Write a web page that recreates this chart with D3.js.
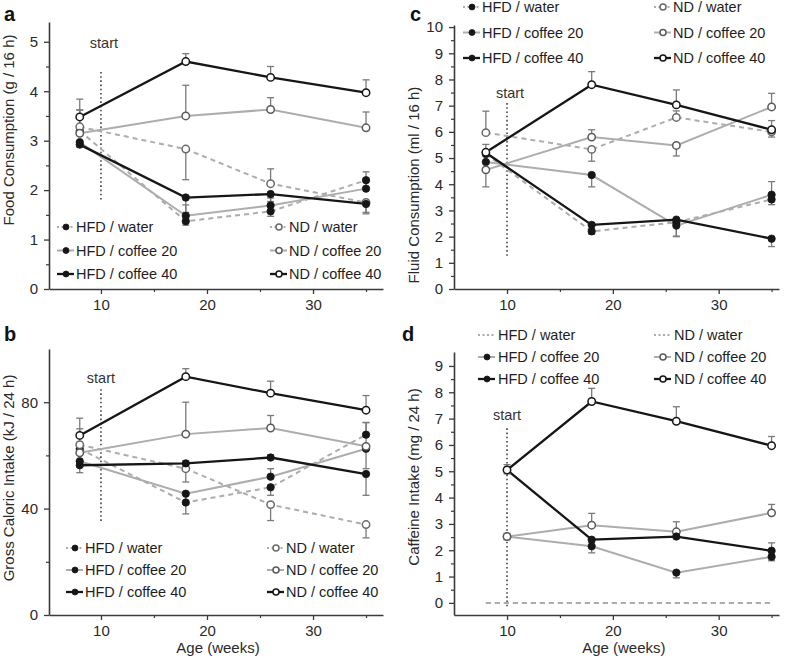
<!DOCTYPE html>
<html><head><meta charset="utf-8">
<script src="https://cdn.jsdelivr.net/npm/d3@7"></script>
<style>
html,body{margin:0;padding:0;background:#fff;}
svg{display:block;font-family:"Liberation Sans",Arial,Helvetica,sans-serif;}
</style></head>
<body>
<svg id="chart" width="792" height="658"></svg>
<script>
// ---------------- DATA ----------------
const weeks = [8, 18, 26, 35];
const caffWeeks = [10, 18, 26, 35];
const seriesNames = ["HFD / water", "HFD / coffee 20", "HFD / coffee 40", "ND / water", "ND / coffee 20", "ND / coffee 40"];

// a: Food consumption (g / 16 h); errors signed (+ up, - down)
const foodHFDwater = [3.20, 1.37, 1.57, 2.20];
const foodHFDc20   = [2.97, 1.48, 1.69, 2.03];
const foodHFDc40   = [2.92, 1.85, 1.92, 1.72];
const foodNDwater  = [3.28, 2.83, 2.13, 1.75];
const foodNDc20    = [3.15, 3.50, 3.63, 3.26];
const foodNDc40    = [3.48, 4.60, 4.28, 3.97];
const foodErrHFDwater = [-0.08, -0.08, -0.10, 0.17];
const foodErrHFDc20   = [-0.06, 0.22, 0.15, 0.17];
const foodErrHFDc40   = [-0.05, -0.30, -0.15, -0.20];
const foodErrNDwater  = [0.34, -0.62, 0.30, -0.20];
const foodErrNDc20    = [0.47, 0.62, 0.24, 0.32];
const foodErrNDc40    = [0.36, 0.16, 0.22, 0.26];

// b: Gross caloric intake (kJ / 24 h)
const calHFDwater = [62.5, 42.3, 48.0, 67.8];
const calHFDc20   = [57.8, 45.6, 52.0, 62.5];
const calHFDc40   = [56.3, 57.0, 59.2, 53.0];
const calNDwater  = [64.0, 55.0, 41.5, 34.0];
const calNDc20    = [61.0, 68.0, 70.3, 63.4];
const calNDc40    = [67.5, 89.6, 83.4, 77.0];
const calErrHFDwater = [1.0, -4.3, -3.0, 4.5];
const calErrHFDc20   = [-2.0, -4.0, 3.0, -7.5];
const calErrHFDc40   = [-2.8, 1.0, 1.0, -8.0];
const calErrNDwater  = [6.0, -5.0, -6.0, -5.0];
const calErrNDc20    = [2.0, 12.0, 4.7, 9.0];
const calErrNDc40    = [6.5, 3.0, 4.5, 5.5];

// c: Fluid consumption (ml / 16 h)
const fluHFDwater = [5.15, 2.20, 2.55, 3.42];
const fluHFDc20   = [4.85, 4.35, 2.42, 3.60];
const fluHFDc40   = [5.20, 2.45, 2.65, 1.92];
const fluNDwater  = [5.97, 5.33, 6.55, 6.00];
const fluNDc20    = [4.55, 5.80, 5.48, 6.95];
const fluNDc40    = [5.22, 7.80, 7.03, 6.08];
const fluErrHFDwater = [0.10, -0.10, -0.55, -0.20];
const fluErrHFDc20   = [0.30, -0.45, -0.40, 0.50];
const fluErrHFDc40   = [0.10, -0.15, -0.20, -0.30];
const fluErrNDwater  = [0.82, -0.45, 0.25, -0.20];
const fluErrNDc20    = [-0.65, 0.28, -0.40, 0.52];
const fluErrNDc40    = [0.30, 0.50, 0.57, 0.35];

// d: Caffeine intake (mg / 24 h)
const cafHFDwater = [0, 0, 0, 0];
const cafNDwater  = [0, 0, 0, 0];
const cafHFDc20   = [2.52, 2.15, 1.15, 1.75];
const cafHFDc40   = [5.05, 2.40, 2.52, 1.98];
const cafNDc20    = [2.52, 2.95, 2.70, 3.42];
const cafNDc40    = [5.05, 7.65, 6.90, 5.97];
const cafErrHFDc20 = [-0.12, -0.25, -0.20, -0.15];
const cafErrHFDc40 = [-0.15, -0.10, -0.05, 0.30];
const cafErrNDc20  = [0.12, 0.45, 0.38, 0.32];
const cafErrNDc40  = [0.20, 0.50, 0.55, 0.35];

const xTicks = [10, 20, 30];
const xMinor = [15, 25, 35];

// ---------------- STYLE ----------------
const BLACK = "#161616", GRAY = "#adadad", ERR = "#7a7a7a";
const styles = {
  "HFD / water":     {line: GRAY,  dash: "5,4", open: false},
  "HFD / coffee 20": {line: GRAY,  dash: null,  open: false},
  "HFD / coffee 40": {line: BLACK, dash: null,  open: false},
  "ND / water":      {line: GRAY,  dash: "5,4", open: true, stroke: "#6a6a6a"},
  "ND / coffee 20":  {line: GRAY,  dash: null,  open: true, stroke: "#5a5a5a"},
  "ND / coffee 40":  {line: BLACK, dash: null,  open: true, stroke: BLACK}
};

const svg = d3.select("#chart");

function mk(name, xs, ys, errs, markers = true) {
  return {name, xs, ys, errs, markers};
}

const panels = [
  { letter: "a", lx: 4, ly: 21, ylabel: "Food Consumption (g / 16 h)", ylx: 14, yly: 130,
    xDomain: [5.1, 36.6], xRange: [49, 383], yDomain: [0, 5.4], yRange: [289, 22],
    yTicks: [0, 1, 2, 3, 4, 5], yMinor: [0.5, 1.5, 2.5, 3.5, 4.5],
    start: {y1: 4.39, y2: 1.76, ty: 4.88, dx: 3},
    legend: {x1: 57, x2: 270, y: 232, dy: 23.5, textDx: 19, dWater: true},
    series: [
      mk("HFD / water", weeks, foodHFDwater, foodErrHFDwater),
      mk("ND / water", weeks, foodNDwater, foodErrNDwater),
      mk("HFD / coffee 20", weeks, foodHFDc20, foodErrHFDc20),
      mk("ND / coffee 20", weeks, foodNDc20, foodErrNDc20),
      mk("HFD / coffee 40", weeks, foodHFDc40, foodErrHFDc40),
      mk("ND / coffee 40", weeks, foodNDc40, foodErrNDc40)
    ]},
  { letter: "b", lx: 4, ly: 341, ylabel: "Gross Caloric Intake (kJ / 24 h)", ylx: 14, yly: 478,
    xDomain: [5.1, 36.6], xRange: [49, 383], yDomain: [0, 100], yRange: [615, 349],
    yTicks: [0, 40, 80], yMinor: [20, 60],
    start: {y1: 84.9, y2: 35.3, ty: 87.2, dx: 0}, xlabel: true,
    legend: {x1: 66, x2: 267, y: 553, dy: 22, textDx: 19, dWater: true},
    series: [
      mk("HFD / water", weeks, calHFDwater, calErrHFDwater),
      mk("ND / water", weeks, calNDwater, calErrNDwater),
      mk("HFD / coffee 20", weeks, calHFDc20, calErrHFDc20),
      mk("ND / coffee 20", weeks, calNDc20, calErrNDc20),
      mk("HFD / coffee 40", weeks, calHFDc40, calErrHFDc40),
      mk("ND / coffee 40", weeks, calNDc40, calErrNDc40)
    ]},
  { letter: "c", lx: 410, ly: 21, ylabel: "Fluid Consumption (ml / 16 h)", ylx: 419, yly: 185,
    xDomain: [4.99, 35.7], xRange: [454, 779], yDomain: [0, 10.08], yRange: [289, 25],
    yTicks: d3.range(0, 11), yMinor: d3.range(0.5, 10, 1),
    start: {y1: 7.1, y2: 1.18, ty: 7.29, dx: 3},
    legend: {x1: 463, x2: 654, y: 12, dy: 25.5, textDx: 19, dWater: true},
    series: [
      mk("HFD / water", weeks, fluHFDwater, fluErrHFDwater),
      mk("ND / water", weeks, fluNDwater, fluErrNDwater),
      mk("HFD / coffee 20", weeks, fluHFDc20, fluErrHFDc20),
      mk("ND / coffee 20", weeks, fluNDc20, fluErrNDc20),
      mk("HFD / coffee 40", weeks, fluHFDc40, fluErrHFDc40),
      mk("ND / coffee 40", weeks, fluNDc40, fluErrNDc40)
    ]},
  { letter: "d", lx: 402, ly: 341, ylabel: "Caffeine Intake (mg / 24 h)", ylx: 419, yly: 477,
    xDomain: [4.99, 35.7], xRange: [454, 779], yDomain: [-0.46, 9.53], yRange: [615, 352],
    yTicks: d3.range(0, 10), yMinor: d3.range(0.5, 9.5, 1),
    start: {y1: 6.63, y2: -0.15, ty: 6.95, dx: 0}, xlabel: true,
    legend: {x1: 478, x2: 654, y: 340, dy: 22, textDx: 20, dWater: false},
    series: [
      mk("HFD / water", weeks, cafHFDwater, null, false),
      mk("ND / water", weeks, cafNDwater, null, false),
      mk("HFD / coffee 20", caffWeeks, cafHFDc20, cafErrHFDc20),
      mk("ND / coffee 20", caffWeeks, cafNDc20, cafErrNDc20),
      mk("HFD / coffee 40", caffWeeks, cafHFDc40, cafErrHFDc40),
      mk("ND / coffee 40", caffWeeks, cafNDc40, cafErrNDc40)
    ]}
];

function marker(sel, name, cx, cy, r) {
  const s = styles[name];
  sel.append("circle").attr("cx", cx).attr("cy", cy).attr("r", r)
    .attr("fill", s.open ? "#fff" : BLACK)
    .attr("stroke", s.open ? s.stroke : BLACK)
    .attr("stroke-width", s.open ? 1.5 : 0.8);
}

panels.forEach(p => {
  const g = svg.append("g");
  const x = d3.scaleLinear().domain(p.xDomain).range(p.xRange);
  const y = d3.scaleLinear().domain(p.yDomain).range(p.yRange);
  const x0 = p.xRange[0], yb = p.yRange[0];

  // axes
  const styleAxis = a => {
    a.select(".domain").attr("stroke", "#3a3a3a").attr("stroke-width", 1.6);
    a.selectAll(".tick line").attr("stroke", "#3a3a3a").attr("stroke-width", 1.3);
    a.selectAll(".tick text").attr("fill", "#2a2a2a").style("font-size", "15px")
      .style("font-family", "'Liberation Sans',Arial,sans-serif");
  };
  g.append("g").attr("transform", `translate(0,${yb})`)
    .call(d3.axisBottom(x).tickValues(xMinor).tickSize(3).tickFormat(""))
    .call(a => { a.select(".domain").remove(); a.selectAll("line").attr("stroke", "#3a3a3a").attr("stroke-width", 1.2); });
  g.append("g").attr("transform", `translate(${x0},0)`)
    .call(d3.axisLeft(y).tickValues(p.yMinor).tickSize(3).tickFormat(""))
    .call(a => { a.select(".domain").remove(); a.selectAll("line").attr("stroke", "#3a3a3a").attr("stroke-width", 1.2); });
  g.append("g").attr("transform", `translate(0,${yb})`)
    .call(d3.axisBottom(x).tickValues(xTicks).tickSize(5).tickSizeOuter(0).tickPadding(5).tickFormat(d3.format("d")))
    .call(styleAxis);
  g.append("g").attr("transform", `translate(${x0},0)`)
    .call(d3.axisLeft(y).tickValues(p.yTicks).tickSize(5).tickSizeOuter(0).tickPadding(6).tickFormat(d3.format("d")))
    .call(styleAxis);

  // labels
  g.append("text").attr("x", p.lx).attr("y", p.ly).text(p.letter)
    .style("font-size", "20px").style("font-weight", "bold").attr("fill", "#111");
  g.append("text").attr("transform", `translate(${p.ylx},${p.yly}) rotate(-90)`)
    .attr("text-anchor", "middle").style("font-size", "15px").attr("fill", "#2a2a2a").text(p.ylabel);
  if (p.xlabel) {
    g.append("text").attr("x", x(20) + 11).attr("y", 653)
      .attr("text-anchor", "middle").style("font-size", "15px").attr("fill", "#2a2a2a").text("Age (weeks)");
  }

  // start marker
  g.append("line").attr("x1", x(10)).attr("x2", x(10)).attr("y1", y(p.start.y1)).attr("y2", y(p.start.y2))
    .attr("stroke", "#444").attr("stroke-width", 1.6).attr("stroke-dasharray", "1.6,2.6");
  g.append("text").attr("x", x(10) + p.start.dx).attr("y", y(p.start.ty)).attr("text-anchor", "middle")
    .style("font-size", "14.5px").attr("fill", "#333").text("start");

  // lines
  const line = d3.line().x(d => x(d[0])).y(d => y(d[1]));
  p.series.forEach(s => {
    const st = styles[s.name];
    g.append("path").datum(s.xs.map((v, i) => [v, s.ys[i]])).attr("d", line)
      .attr("fill", "none").attr("stroke", st.line).attr("stroke-width", st.line === BLACK ? 2.3 : 2)
      .attr("stroke-dasharray", st.dash);
  });
  // error bars
  p.series.forEach(s => {
    if (!s.errs) return;
    s.xs.forEach((v, i) => {
      const e = s.errs[i];
      const cx = x(v), ya = y(s.ys[i]), ye = y(s.ys[i] + e);
      g.append("line").attr("x1", cx).attr("x2", cx).attr("y1", ya).attr("y2", ye)
        .attr("stroke", ERR).attr("stroke-width", 1.3);
      g.append("line").attr("x1", cx - 3.5).attr("x2", cx + 3.5).attr("y1", ye).attr("y2", ye)
        .attr("stroke", ERR).attr("stroke-width", 1.3);
    });
  });
  // markers
  p.series.forEach(s => {
    if (!s.markers) return;
    s.xs.forEach((v, i) => marker(g, s.name, x(v), y(s.ys[i]), 3.7));
  });

  // legend
  const L = p.legend;
  const order = [["HFD / water", "ND / water"], ["HFD / coffee 20", "ND / coffee 20"], ["HFD / coffee 40", "ND / coffee 40"]];
  order.forEach((pair, r) => {
    pair.forEach((name, c) => {
      const st = styles[name];
      const lx = c === 0 ? L.x1 : L.x2, ly = L.y + r * L.dy;
      const isWater = name.indexOf("water") >= 0;
      const lg = g.append("g");
      lg.append("line").attr("x1", lx).attr("x2", lx + 17).attr("y1", ly - 5).attr("y2", ly - 5)
        .attr("stroke", st.line).attr("stroke-width", st.line === BLACK ? 2.3 : 2)
        .attr("stroke-dasharray", isWater ? "2,2.5" : null);
      if (!(isWater && !L.dWater)) marker(lg, name, lx + 9, ly - 5, 3);
      lg.append("text").attr("x", lx + L.textDx).attr("y", ly).style("font-size", "14.5px")
        .attr("fill", "#1e1e1e").text(name);
    });
  });
});
</script>
</body></html>
